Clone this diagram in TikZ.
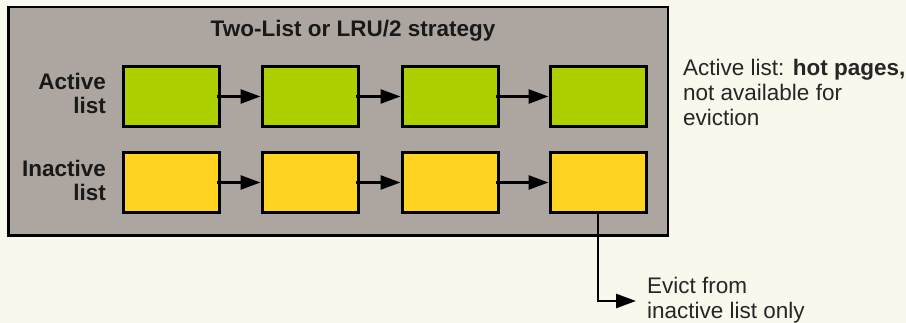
\documentclass[tikz,border=0pt]{standalone}
\usepackage{fontspec}
\setmainfont{Liberation Sans}
\usetikzlibrary{arrows.meta}
\definecolor{bgc}{RGB}{250,247,237}
\definecolor{framec}{RGB}{173,166,160}
\definecolor{greenc}{HTML}{AECF00}
\definecolor{yellowc}{HTML}{FFD320}
\definecolor{txtc}{RGB}{38,38,38}
\tikzset{
  frame/.style={draw=black, fill=framec, line width=2.5pt, minimum width=659.5pt, minimum height=228.5pt, inner sep=0pt},
  pagebox/.style={draw=black, line width=3pt, minimum width=96pt, minimum height=60pt, inner sep=0pt},
  activebox/.style={pagebox, fill=greenc},
  inactivebox/.style={pagebox, fill=yellowc},
  link/.style={line width=2.6pt, -{Triangle[length=20pt,width=14pt]}},
  rowlabel/.style={font=\fontsize{22.5}{24}\selectfont\bfseries, align=right, anchor=north east, inner sep=0pt, text=black!90},
  note/.style={font=\fontsize{22.5}{25}\selectfont, align=left, anchor=north west, inner sep=0pt, text=txtc},
}
\begin{document}
\begin{tikzpicture}[x=1pt, y=-1pt]
\useasboundingbox[fill=bgc] (0,0) rectangle (906,323);
\node[frame] (frame) at (338,121.5) {};
\node[anchor=base, inner sep=0pt, font=\fontsize{22.5}{24}\selectfont\bfseries, text=black!90] (title) at (353,37) {Two-List or LRU/2 strategy};
\node[rowlabel] (alabel) at (106,73) {Active\\list};
\node[rowlabel] (ilabel) at (106,160) {Inactive\\list};
\foreach \i/\x in {1/171,2/310,3/450,4/598} {
  \node[activebox] (a\i) at (\x,96.5) {};
  \node[inactivebox] (b\i) at (\x,182.5) {};
}
\foreach \i/\j in {1/2,2/3,3/4} {
  \draw[link] ([xshift=-4pt]a\i.east) -- (a\j.west);
  \draw[link] ([xshift=-4pt]b\i.east) -- (b\j.west);
}
\coordinate (evict) at (636,301);
\draw[link] (b4.south) |- (evict);
\node[note] (anote) at (683,59) {Active list: \textbf{hot pages,}\\not available for\\eviction};
\node[note] (enote) at (647,277) {Evict from\\inactive list only};
\end{tikzpicture}
\end{document}
